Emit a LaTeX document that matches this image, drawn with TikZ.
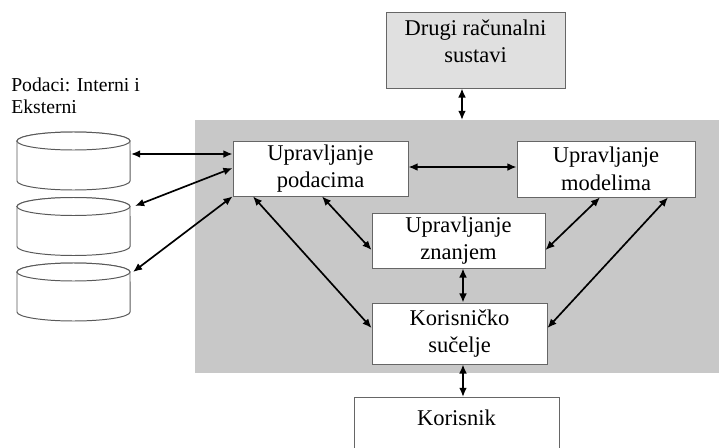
\documentclass[tikz,border=0pt]{standalone}
\usepackage{fontspec}
\setmainfont{Liberation Serif}
\usepackage{xcolor}
\usepackage{tikz}
\usetikzlibrary{arrows.meta}

\definecolor{panelgray}{RGB}{200,200,200}
\definecolor{boxgray}{RGB}{224,224,224}

\tikzset{
	box/.style={draw=black!60, line width=0.6pt, fill=white, align=center,
		font=\fontsize{16}{19.5}\selectfont, inner sep=0pt},
	link/.style={{Latex[length=6.5pt,width=5.5pt]}-{Latex[length=6.5pt,width=5.5pt]}, line width=1.2pt},
	cyl/.style={draw=black!65, line width=0.7pt, fill=white}
}

\begin{document}
\begin{tikzpicture}[x=0.025cm, y=-0.025cm]
			\useasboundingbox (0,0) rectangle (719,448);
			\clip (0,0) rectangle (719,448);

			% Sustav
			\node[fill=panelgray, minimum width=13.1cm, minimum height=6.325cm, inner sep=0pt, anchor=north west] (panel) at (195,120) {};

			% Blokovi
			\node[box, fill=boxgray, minimum width=4.475cm, minimum height=1.9cm] (drugi) at (475.5,50) {};
			\node[align=center, font=\fontsize{16}{19.5}\selectfont] (drugitxt) at (475.5,41) {Drugi računalni\\sustavi};
			\node[box, minimum width=4.375cm, minimum height=1.375cm] (pod) at (320.5,168.5) {Upravljanje\\podacima};
			\node[box, minimum width=4.45cm, minimum height=1.4cm] (mod) at (606,169) {Upravljanje\\modelima};
			\node[box, minimum width=4.325cm, minimum height=1.375cm] (zna) at (458.5,240.5) {Upravljanje\\znanjem};
			\node[box, minimum width=4.375cm, minimum height=1.525cm] (suc) at (459.5,333.5) {Korisničko\\sučelje};
			\node[box, minimum width=5.125cm, minimum height=1.5cm, anchor=north] (kor) at (456.5,397) {};
			\node[font=\fontsize{16}{19.5}\selectfont] (kortxt) at (456.5,418) {Korisnik};

			% Baze podataka
			\node[anchor=north west, align=left, inner sep=0pt, font=\fontsize{14}{15.6}\selectfont] (podaci) at (11,78) {Podaci: Interni i\\Eksterni};
			\foreach \t in {132,197.5,263}{
				\draw[cyl] (17,\t+9) -- (17,\t+49) arc[start angle=180, end angle=360, x radius=1.4125cm, y radius=0.225cm]
					-- (130,\t+9) arc[start angle=0, end angle=180, x radius=1.4125cm, y radius=0.225cm] -- cycle;
				\draw[cyl] (73.5,\t+9) ellipse[x radius=1.4125cm, y radius=0.225cm];
			}
			\coordinate (c1) at (131,154);
			\coordinate (c2) at (135,206);
			\coordinate (c3) at (133,272);

			% Veze
			\draw[link] (drugi.south -| 462,0) -- (panel.north -| 462,0);
			\draw[link] (c1) -- (pod.west |- 0,154);
			\draw[link] (c2) -- (pod.west |- 0,168);
			\draw[link] (c3) -- (pod.south west);
			\draw[link] (pod.east |- 0,167) -- (mod.west |- 0,167);
			\draw[link] (pod.south -| 253,0) -- (suc.west |- 0,328);
			\draw[link] (pod.south -| 322,0) -- (zna.west |- 0,250);
			\draw[link] (mod.south -| 600,0) -- (zna.east |- 0,250);
			\draw[link] (mod.south -| 668,0) -- (suc.east |- 0,328);
			\draw[link] (zna.south -| 463,0) -- (suc.north -| 463,0);
			\draw[link] (suc.south -| 463,0) -- (kor.north -| 463,0);
		\end{tikzpicture}
\end{document}
